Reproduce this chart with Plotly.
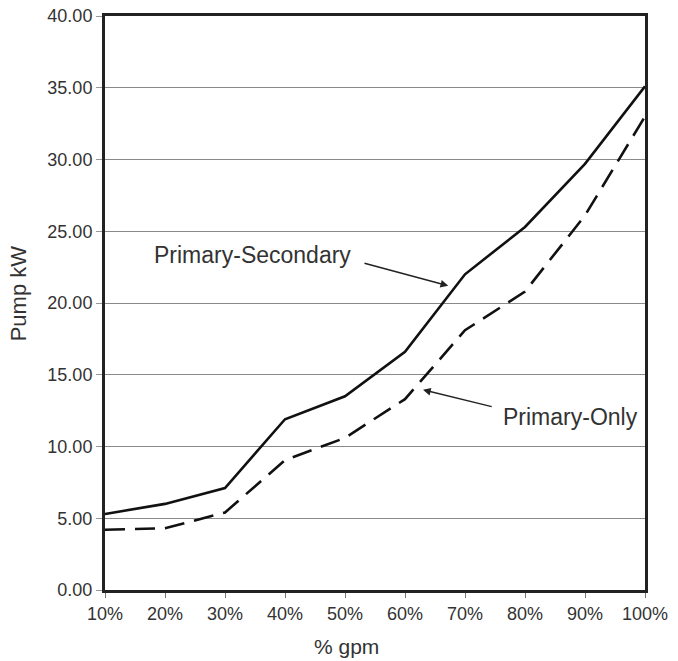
import plotly.graph_objects as go

gpm_pct = [10, 20, 30, 40, 50, 60, 70, 80, 90, 100]
tick_labels = ["10%", "20%", "30%", "40%", "50%", "60%", "70%", "80%", "90%", "100%"]
primary_secondary = [5.3, 6.0, 7.1, 11.9, 13.5, 16.6, 22.0, 25.3, 29.7, 35.1]
primary_only = [4.2, 4.3, 5.4, 9.05, 10.6, 13.3, 18.1, 20.8, 26.1, 33.0]
y_ticks = [0, 5, 10, 15, 20, 25, 30, 35, 40]
y_tick_labels = ["%.2f" % v for v in y_ticks]

FONT = "Liberation Sans, Arial, sans-serif"
TXT = "#333333"

fig = go.Figure()
fig.add_trace(go.Scatter(x=gpm_pct, y=primary_secondary, mode="lines",
                         line=dict(color="#111111", width=2.6),
                         name="Primary-Secondary", showlegend=False))
fig.add_trace(go.Scatter(x=gpm_pct, y=primary_only, mode="lines",
                         line=dict(color="#111111", width=2.6, dash="20px,10px"),
                         name="Primary-Only", showlegend=False))

# arrows (head x,y ; tail ax,ay in data coords)
fig.add_annotation(x=67.2, y=21.2, ax=53.0, ay=22.8, axref="x", ayref="y",
                   xref="x", yref="y", text="", showarrow=True,
                   arrowhead=2, arrowsize=1.1, arrowwidth=1.4, arrowcolor="#222")
fig.add_annotation(x=63.0, y=13.95, ax=74.7, ay=12.75, axref="x", ayref="y",
                   xref="x", yref="y", text="", showarrow=True,
                   arrowhead=2, arrowsize=1.1, arrowwidth=1.4, arrowcolor="#222")
fig.add_annotation(x=34.5, y=23.35, xref="x", yref="y", text="Primary-Secondary",
                   showarrow=False, xanchor="center", yanchor="middle",
                   font=dict(family=FONT, size=23, color=TXT))
fig.add_annotation(x=87.5, y=12.06, xref="x", yref="y", text="Primary-Only",
                   showarrow=False, xanchor="center", yanchor="middle",
                   font=dict(family=FONT, size=23, color=TXT))
fig.add_annotation(x=0.448, y=-0.098, xref="paper", yref="paper", text="% gpm",
                   showarrow=False, xanchor="center", yanchor="middle", borderpad=0,
                   font=dict(family=FONT, size=21, color=TXT))
fig.add_annotation(x=-0.161, y=0.517, xref="paper", yref="paper", text="Pump kW",
                   textangle=-90, showarrow=False, xanchor="center", yanchor="middle",
                   font=dict(family=FONT, size=22, color=TXT))

fig.update_xaxes(range=[10, 100], tickmode="array", tickvals=gpm_pct, ticktext=tick_labels,
                 showgrid=False, zeroline=False, showline=True, linecolor="#222",
                 linewidth=3, mirror=True, ticks="outside", ticklen=5, tickcolor="#777",
                 ticklabeloverflow="allow",
                 tickfont=dict(family=FONT, size=18, color=TXT))
fig.update_yaxes(range=[0, 40], tickmode="array", tickvals=y_ticks, ticktext=y_tick_labels,
                 showgrid=True, gridcolor="#8a8a8a", gridwidth=1, zeroline=False,
                 showline=True, linecolor="#222", linewidth=3, mirror=True,
                 ticks="outside", ticklen=6, tickcolor="#999",
                 ticklabeloverflow="allow",
                 tickfont=dict(family=FONT, size=18, color=TXT))

fig.update_layout(width=678, height=661, margin=dict(l=105, r=33, t=16, b=71, autoexpand=False),
                  plot_bgcolor="white", paper_bgcolor="white")

fig.write_html("out.html", config={"displayModeBar": False},
               post_script="document.body.style.margin='0px';")
